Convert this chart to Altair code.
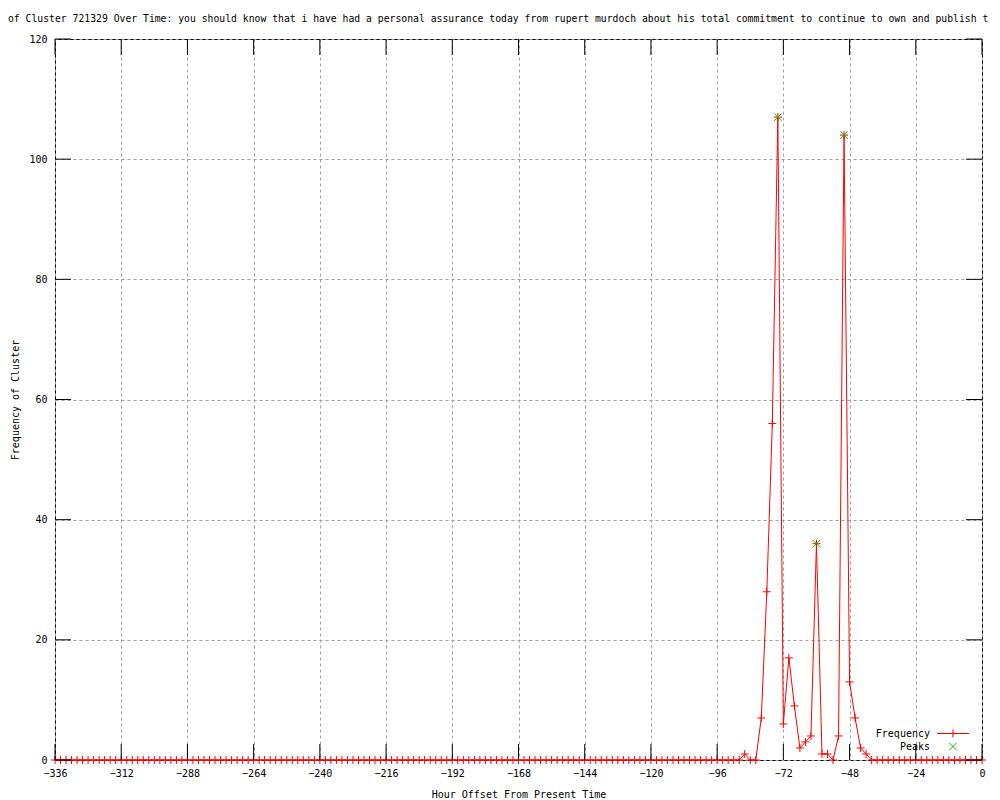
import altair as alt
import pandas as pd

# ---- data ----
hours = list(range(-336, 1, 2))  # samples every 2 hours
frequency = [
    0, 0, 0, 0, 0, 0, 0, 0, 0, 0, 0, 0, 0, 0, 0, 0, 0, 0, 0, 0, 0, 0, 0, 0, 0,   # -336 .. -288
    0, 0, 0, 0, 0, 0, 0, 0, 0, 0, 0, 0, 0, 0, 0, 0, 0, 0, 0, 0, 0, 0, 0, 0, 0,   # -286 .. -238
    0, 0, 0, 0, 0, 0, 0, 0, 0, 0, 0, 0, 0, 0, 0, 0, 0, 0, 0, 0, 0, 0, 0, 0, 0,   # -236 .. -188
    0, 0, 0, 0, 0, 0, 0, 0, 0, 0, 0, 0, 0, 0, 0, 0, 0, 0, 0, 0, 0, 0, 0, 0, 0,   # -186 .. -138
    0, 0, 0, 0, 0, 0, 0, 0, 0, 0, 0, 0, 0, 0, 0, 0, 0, 0, 0, 0, 0, 0, 0, 0, 0,   # -136 .. -88
    1, 0, 0, 7, 28, 56, 107, 6, 17, 9, 2, 3, 4, 36, 1, 1, 0, 4, 104, 13, 7, 2, 1,  # -86 .. -42
    0, 0, 0, 0, 0, 0, 0, 0, 0, 0, 0, 0, 0, 0, 0, 0, 0, 0, 0, 0, 0,               # -40 .. 0
]
peak_hours = [-74, -60, -50]
peak_values = [107, 36, 104]

x_ticks = [-336, -312, -288, -264, -240, -216, -192, -168, -144, -120, -96, -72, -48, -24, 0]
y_ticks = [0, 20, 40, 60, 80, 100, 120]
legend_labels = ["Frequency", "Peaks"]

title_text = ("of Cluster 721329 Over Time: you should know that i have had a personal "
              "assurance today from rupert murdoch about his total commitment to continue "
              "to own and publish t")

# ---- styling ----
W, H = 927, 721
FONT = "DejaVu Sans Mono"
RED = "#ff0000"
GREEN = "#00c000"
GRID = "#a0a0a0"
TICK = 16
PLUS = "M-1,0L1,0M0,-1L0,1"
CROSS = "M-1,-1L1,1M-1,1L1,-1"

df = pd.DataFrame({"hour": hours, "freq": frequency})
peaks = pd.DataFrame({"hour": peak_hours, "freq": peak_values})
xt = pd.DataFrame({"hour": x_ticks})
yt = pd.DataFrame({"freq": y_ticks})

xscale = alt.Scale(domain=[-336, 0], nice=False, zero=False)
yscale = alt.Scale(domain=[0, 120], nice=False, zero=True)

common_axis = dict(grid=True, gridColor=GRID, gridDash=[3, 3], gridWidth=1, gridOpacity=1,
                   ticks=False, tickSize=0, domain=False, labelFlush=False,
                   labelOverlap=False, format="d",
                   labelFont=FONT, labelFontSize=10, labelColor="black",
                   titleFont=FONT, titleFontSize=10, titleColor="black",
                   titleFontWeight="normal")
xaxis = alt.Axis(values=x_ticks, title="Hour Offset From Present Time",
                 labelPadding=8, titlePadding=11, **common_axis)
yaxis = alt.Axis(values=y_ticks, title="Frequency of Cluster",
                 labelPadding=8, titlePadding=8, **common_axis)

X = alt.X("hour:Q", scale=xscale, axis=xaxis)
Y = alt.Y("freq:Q", scale=yscale, axis=yaxis)

line = alt.Chart(df).mark_line(color=RED, strokeWidth=1, clip=False).encode(x=X, y=Y)
pts = alt.Chart(df).mark_point(shape=PLUS, size=64, filled=False, color=RED,
                               strokeWidth=1, opacity=1).encode(x=X, y=Y)
pk = alt.Chart(peaks).mark_point(shape=CROSS, size=56, filled=False, color=GREEN,
                                 strokeWidth=1, opacity=1).encode(x=X, y=Y)

tick_bottom = alt.Chart(xt).mark_rule(color="black", strokeWidth=1).encode(
    x=X, y=alt.value(H), y2=alt.value(H - TICK))
tick_top = alt.Chart(xt).mark_rule(color="black", strokeWidth=1).encode(
    x=X, y=alt.value(0), y2=alt.value(TICK))
tick_left = alt.Chart(yt).mark_rule(color="black", strokeWidth=1).encode(
    y=Y, x=alt.value(0), x2=alt.value(TICK))
tick_right = alt.Chart(yt).mark_rule(color="black", strokeWidth=1).encode(
    y=Y, x=alt.value(W), x2=alt.value(W - TICK))

# gnuplot-style key (label on the left, sample on the right)
key_df = pd.DataFrame({"label": legend_labels})
key_freq_text = alt.Chart(key_df.iloc[[0]]).mark_text(
    align="right", baseline="middle", font=FONT, fontSize=10, color="black").encode(
    x=alt.value(875), y=alt.value(694.5), text="label:N")
key_peak_text = alt.Chart(key_df.iloc[[1]]).mark_text(
    align="right", baseline="middle", font=FONT, fontSize=10, color="black").encode(
    x=alt.value(875), y=alt.value(707.5), text="label:N")
key_line = alt.Chart(key_df.iloc[[0]]).mark_rule(color=RED, strokeWidth=1).encode(
    x=alt.value(882), x2=alt.value(914), y=alt.value(694.5))
key_plus = alt.Chart(key_df.iloc[[0]]).mark_point(
    shape=PLUS, size=64, filled=False, color=RED, strokeWidth=1, opacity=1).encode(
    x=alt.value(898), y=alt.value(694.5))
key_cross = alt.Chart(key_df.iloc[[1]]).mark_point(
    shape=CROSS, size=56, filled=False, color=GREEN, strokeWidth=1, opacity=1).encode(
    x=alt.value(898), y=alt.value(707.5))

chart = alt.layer(
    line, pts, pk, tick_bottom, tick_top, tick_left, tick_right,
    key_freq_text, key_peak_text, key_line, key_plus, key_cross,
).properties(
    width=W, height=H,
    background="white",
    title=alt.TitleParams(text=title_text, anchor="start", frame="group", dx=-47,
                          offset=5, baseline="middle", font=FONT, fontSize=9.75,
                          fontWeight="normal", color="black"),
    autosize=alt.AutoSizeParams(type="none"),
    padding={"left": 47, "top": 31, "right": 10, "bottom": 40},
).configure_view(
    stroke="black", strokeWidth=1
)

chart.save("out.html", embed_options={"renderer": "svg", "actions": False})
